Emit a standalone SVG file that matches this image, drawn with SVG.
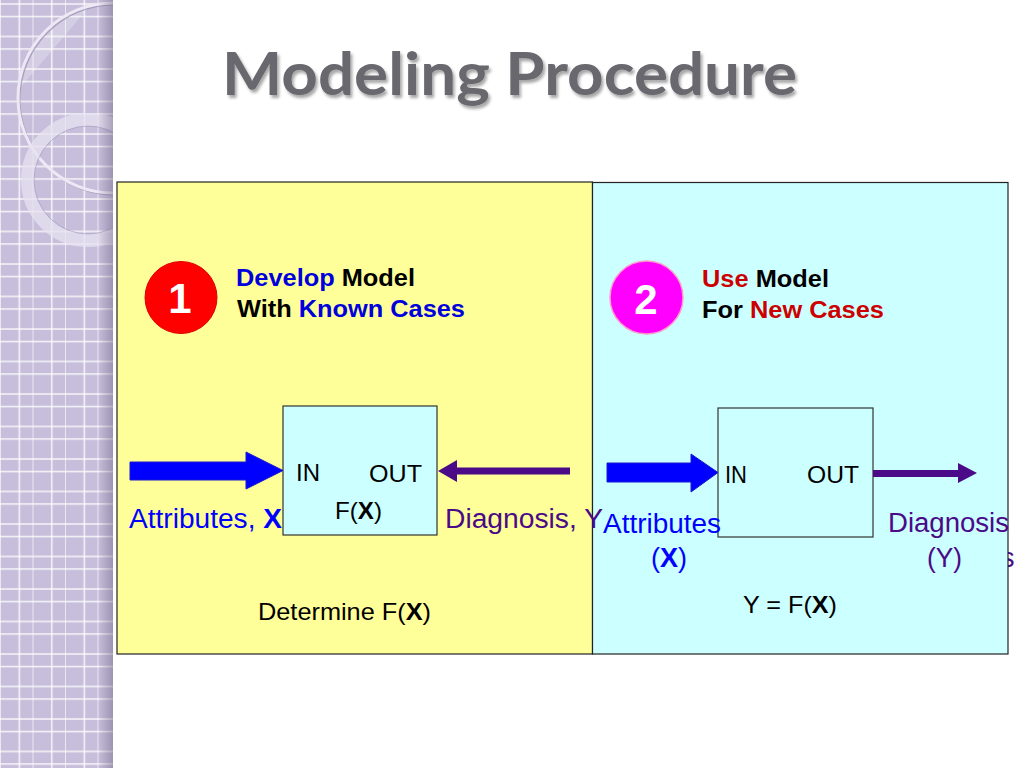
<svg xmlns="http://www.w3.org/2000/svg" width="1024" height="768" viewBox="0 0 1024 768">
  <defs>
    <pattern id="grid" patternUnits="userSpaceOnUse" x="0" y="0" width="32.5" height="32.5">
      <rect x="0" y="0" width="32.5" height="32.5" fill="#c6bedb"/>
      <rect x="-0.7" y="0" width="1.4" height="32.5" fill="#ffffff" opacity="0.9"/>
      <rect x="18.6" y="0" width="1.4" height="32.5" fill="#ffffff" opacity="0.9"/>
      <rect x="0" y="3.3" width="32.5" height="1.4" fill="#ffffff" opacity="0.9"/>
      <rect x="0" y="15.8" width="32.5" height="1.4" fill="#ffffff" opacity="0.9"/>
    </pattern>
    <linearGradient id="edgeShade" x1="0" y1="0" x2="1" y2="0">
      <stop offset="0" stop-color="#6a6080" stop-opacity="0"/>
      <stop offset="1" stop-color="#6a6080" stop-opacity="0.45"/>
    </linearGradient>
    <clipPath id="stripClip">
      <rect x="0" y="0" width="113" height="768"/>
    </clipPath>
    <filter id="titleShadow" x="-5%" y="-20%" width="110%" height="150%">
      <feDropShadow dx="2" dy="3" stdDeviation="1.5" flood-color="#000000" flood-opacity="0.35"/>
    </filter>
    <style>
      .hdr { font-family: "Liberation Sans", Arial, sans-serif; font-weight: bold; font-size: 23px; }
      .lbl { font-family: "Liberation Sans", Arial, sans-serif; font-size: 24px; fill: #000000; }
      .big { font-family: "Liberation Sans", Arial, sans-serif; font-size: 27px; }
      .badge { font-family: "Liberation Sans", Arial, sans-serif; font-weight: bold; font-size: 42px; fill: #ffffff; }
      .blue { fill: #0000ff; }
      .dblue { fill: #0000dd; }
      .purple { fill: #4b0a87; }
      .red { fill: #cc0000; }
      .black { fill: #000000; }
      .bx { font-weight: bold; }
      .panel { stroke: #222222; stroke-width: 1.2; }
      .model { fill: #ccffff; stroke: #333333; stroke-width: 1.2; }
      .fat { fill: #0000ff; stroke: #1a1acc; stroke-width: 1; }
      .thin { fill: #4b0a87; }
    </style>
  </defs>

  <rect x="0" y="0" width="1024" height="768" fill="#ffffff"/>

  <!-- decorative left strip -->
  <g id="decor-strip" clip-path="url(#stripClip)">
    <rect x="0" y="0" width="113" height="768" fill="url(#grid)"/>
    <path d="M 90 5.8 L 20 88 A 95 95 0 0 1 90 5.8 Z" fill="#ffffff" opacity="0.25"/>
    <circle cx="113" cy="98" r="95" fill="none" stroke="#8e84a8" stroke-width="2" opacity="0.6" transform="translate(1.5,1.5)"/>
    <circle cx="113" cy="98" r="95" fill="none" stroke="#ece8f4" stroke-width="3"/>
    <circle cx="88" cy="180" r="60.5" fill="none" stroke="#e6e2f0" stroke-width="13" opacity="0.75"/>
    <circle cx="88" cy="180" r="54" fill="none" stroke="#9a90b4" stroke-width="1" opacity="0.5"/>
    <rect x="98" y="0" width="15" height="768" fill="url(#edgeShade)"/>
  </g>

  <!-- title -->
  <g id="title">
    <text x="222" y="95" font-family="Lato, 'Open Sans', sans-serif" font-weight="bold" font-size="60" fill="#68686e" filter="url(#titleShadow)" textLength="575" lengthAdjust="spacingAndGlyphs">Modeling Procedure</text>
  </g>

  <!-- clipped purple fragment behind right panel -->
  <text class="big purple" x="1001" y="567">s</text>

  <!-- panel 1 -->
  <g id="panel-develop">
    <rect class="panel" x="117" y="182" width="475.5" height="472" fill="#ffff99"/>
  </g>
  <!-- panel 2 -->
  <g id="panel-use">
    <rect class="panel" x="592.5" y="182.5" width="415.5" height="471.5" fill="#ccffff"/>
  </g>

  <!-- badges and headings -->
  <g id="badge-1">
    <circle cx="181" cy="297.5" r="36" fill="#ff0000" stroke="#e00000" stroke-width="1"/>
    <text class="badge" x="180" y="313" text-anchor="middle">1</text>
  </g>
  <g id="heading-1">
    <text class="hdr" x="236" y="286" textLength="179" lengthAdjust="spacingAndGlyphs"><tspan class="dblue">Develop</tspan><tspan class="black"> Model</tspan></text>
    <text class="hdr" x="237" y="317" textLength="228" lengthAdjust="spacingAndGlyphs"><tspan class="black">With </tspan><tspan class="dblue">Known Cases</tspan></text>
  </g>
  <g id="badge-2">
    <circle cx="646.5" cy="297.5" r="36.5" fill="#ff00ff" stroke="#ff99cc" stroke-width="1.5"/>
    <text class="badge" x="646" y="314" text-anchor="middle">2</text>
  </g>
  <g id="heading-2">
    <text class="hdr" x="702" y="287" textLength="127" lengthAdjust="spacingAndGlyphs"><tspan class="red">Use</tspan><tspan class="black"> Model</tspan></text>
    <text class="hdr" x="702" y="318" textLength="182" lengthAdjust="spacingAndGlyphs"><tspan class="black">For </tspan><tspan class="red">New Cases</tspan></text>
  </g>

  <!-- model boxes -->
  <g id="model-box-1">
    <rect class="model" x="283" y="406" width="154" height="129"/>
    <text class="lbl" x="296" y="481" textLength="24" lengthAdjust="spacingAndGlyphs">IN</text>
    <text class="lbl" x="369" y="482" textLength="53" lengthAdjust="spacingAndGlyphs">OUT</text>
    <text class="lbl" x="335" y="519" textLength="47" lengthAdjust="spacingAndGlyphs">F(<tspan class="bx">X</tspan>)</text>
  </g>
  <g id="model-box-2">
    <rect class="model" x="718" y="408" width="155" height="129"/>
    <text class="lbl" x="725" y="483" textLength="22" lengthAdjust="spacingAndGlyphs">IN</text>
    <text class="lbl" x="807" y="483" textLength="52" lengthAdjust="spacingAndGlyphs">OUT</text>
  </g>

  <!-- connectors -->
  <g id="connectors">
    <polygon class="fat" points="130,462 246,462 246,452 283,470.5 246,489 246,480 130,480"/>
    <polygon class="thin" points="570,467.5 457,467.5 457,460 438,471 457,482 457,474.5 570,474.5"/>
    <polygon class="fat" points="607,463 691,463 691,454 718,472.5 691,492 691,482 607,482"/>
    <polygon class="thin" points="873,470 958,470 958,463 977,473 958,483 958,477 873,477"/>
  </g>

  <!-- labels -->
  <g id="labels">
    <text class="big blue" x="129" y="528" textLength="153" lengthAdjust="spacingAndGlyphs">Attributes, <tspan class="bx">X</tspan></text>
    <text class="big purple" x="445" y="528" textLength="158" lengthAdjust="spacingAndGlyphs">Diagnosis, Y</text>
    <text class="lbl" x="258" y="620" textLength="173" lengthAdjust="spacingAndGlyphs">Determine F(<tspan class="bx">X</tspan>)</text>
    <text class="big blue" x="603" y="533" textLength="118" lengthAdjust="spacingAndGlyphs">Attributes</text>
    <text class="big blue" x="651" y="567" textLength="36" lengthAdjust="spacingAndGlyphs">(<tspan class="bx">X</tspan>)</text>
    <text class="big purple" x="888" y="532" textLength="121" lengthAdjust="spacingAndGlyphs">Diagnosis</text>
    <text class="big purple" x="927" y="567" textLength="35" lengthAdjust="spacingAndGlyphs">(Y)</text>
    <text class="lbl" x="743" y="613" textLength="94" lengthAdjust="spacingAndGlyphs">Y = F(<tspan class="bx">X</tspan>)</text>
  </g>
</svg>
